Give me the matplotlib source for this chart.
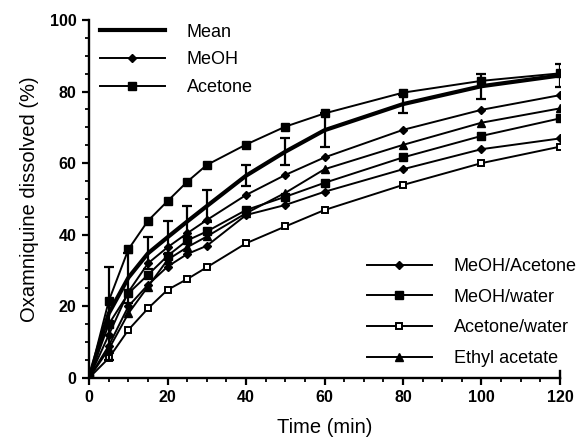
import matplotlib
matplotlib.use("Agg")
import matplotlib.pyplot as plt

time = [0, 5, 10, 15, 20, 25, 30, 40, 50, 60, 80, 100, 120]
mean = [0, 18, 28, 34.8, 39.3, 43.7, 48, 56.5, 63.2, 69.2, 76.5, 81.5, 84.5]
mean_err = [0, 13, 7, 4.5, 4.6, 4.3, 4.4, 3, 3.7, 4.8, 2.6, 3.5, 3.2]
meoh = [0, 12, 24, 32, 36.5, 40.4, 44.1, 51.1, 56.7, 61.6, 69.3, 74.9, 79.0]
acetone = [0, 21.5, 35.9, 43.9, 49.4, 54.8, 59.5, 65.2, 70.2, 73.9, 79.7, 83.0, 85.1]
meoh_acetone = [0, 9, 20, 26, 31.1, 34.6, 36.9, 45.5, 48.3, 52.0, 58.3, 63.9, 66.9]
meoh_water = [0, 15, 23.6, 28.8, 34.1, 38.4, 40.9, 46.9, 50.6, 54.5, 61.6, 67.6, 72.5]
acetone_water = [0, 5.5, 13.4, 19.4, 24.6, 27.6, 30.9, 37.6, 42.3, 46.9, 53.9, 60.0, 64.6]
ethyl_acetate = [0, 8, 18, 25.5, 33, 36.5, 39.5, 46, 51.7, 58.3, 65.1, 71.3, 75.3]

plt.rcParams['font.family'] = ['Liberation Sans', 'DejaVu Sans']

fig = plt.figure(figsize=(5.79, 4.45), dpi=100)
ax = fig.add_axes([0.154, 0.151, 0.813, 0.804])

lw = 1.4
k = 'black'
h_meoh, = ax.plot(time, meoh, '-D', color=k, lw=lw, ms=4.0, label='MeOH')
h_ac, = ax.plot(time, acetone, '-s', color=k, lw=lw, ms=5.2, label='Acetone')
h_ma, = ax.plot(time, meoh_acetone, '-D', color=k, lw=lw, ms=4.0, label='MeOH/Acetone')
h_mw, = ax.plot(time, meoh_water, '-s', color=k, lw=lw, ms=5.2, label='MeOH/water')
h_aw, = ax.plot(time, acetone_water, '-s', color=k, mfc='white', mew=1.4, lw=lw,
                ms=5.0, label='Acetone/water')
h_ea, = ax.plot(time, ethyl_acetate, '-^', color=k, lw=lw, ms=5.2, label='Ethyl acetate')
ax.errorbar(time, mean, yerr=mean_err, fmt='none', ecolor=k, elinewidth=1.6,
            capsize=3.5, capthick=1.6)
h_mean, = ax.plot(time, mean, '-', color=k, lw=3.0, label='Mean')

ax.set_xlim(0, 120)
ax.set_ylim(0, 100)
ax.set_xticks(range(0, 121, 20))
ax.set_yticks(range(0, 101, 20))
ax.set_xticks(range(0, 121, 5), minor=True)
ax.set_yticks(range(0, 101, 5), minor=True)
for s in ['top', 'right']:
    ax.spines[s].set_visible(False)
for s in ['left', 'bottom']:
    ax.spines[s].set_linewidth(1.7)
ax.tick_params(which='major', direction='out', length=5, width=1.6, labelsize=11.5, pad=4)
ax.tick_params(which='minor', direction='out', length=3, width=1.3)
for lab in ax.get_xticklabels() + ax.get_yticklabels():
    lab.set_fontweight('bold')
# small upward end tick at the right end of the x axis
ax.plot([1, 1], [0, 0.018], transform=ax.transAxes, color=k, lw=1.7, clip_on=False)

ax.set_xlabel('Time (min)', fontsize=14.5, labelpad=9)
ax.set_ylabel('Oxamniquine dissolved (%)', fontsize=14.5, labelpad=8)

leg1 = ax.legend(handles=[h_mean, h_meoh, h_ac], loc='upper left',
                 bbox_to_anchor=(0.023, 0.99), frameon=False, fontsize=13,
                 handlelength=3.6, handletextpad=1.2, labelspacing=0.6,
                 borderpad=0, borderaxespad=0)
ax.add_artist(leg1)
ax.legend(handles=[h_ma, h_mw, h_aw, h_ea], loc='upper left',
          bbox_to_anchor=(0.59, 0.335), frameon=False, fontsize=13,
          handlelength=3.6, handletextpad=1.2, labelspacing=0.76,
          borderpad=0, borderaxespad=0)

fig.savefig('out.png', dpi=100)
